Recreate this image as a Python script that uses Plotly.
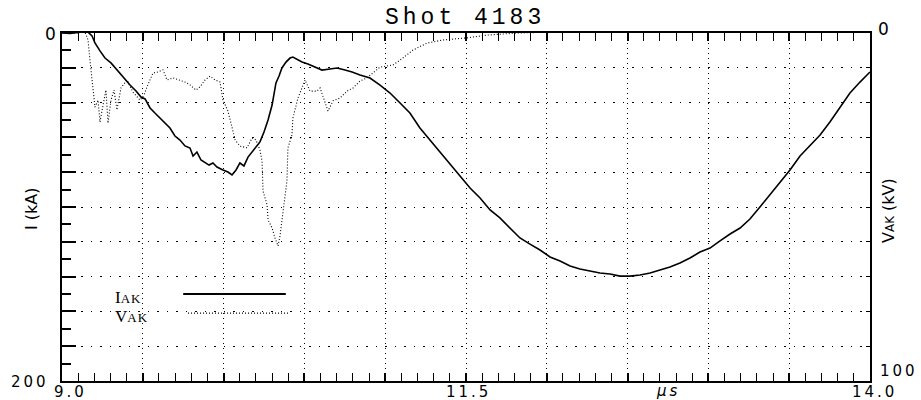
import plotly.graph_objects as go

# ---------------- data ----------------
# Current I_AK (kA) vs time (microseconds)
t_I = [9.000, 9.050, 9.111, 9.161, 9.186, 9.204, 9.235, 9.266, 9.303, 9.340,
       9.377, 9.421, 9.458, 9.489, 9.514, 9.545, 9.575, 9.606, 9.637, 9.668,
       9.699, 9.730, 9.761, 9.792, 9.811, 9.835, 9.860, 9.885, 9.910, 9.934,
       9.959, 9.996, 10.027, 10.052, 10.077, 10.101, 10.126, 10.151, 10.176, 10.200,
       10.225, 10.250, 10.275, 10.300, 10.324, 10.343, 10.361, 10.386, 10.411, 10.429,
       10.454, 10.485, 10.522, 10.566, 10.609, 10.658, 10.702, 10.751, 10.795, 10.844,
       10.906, 10.968, 11.030, 11.092, 11.153, 11.215, 11.277, 11.339, 11.401, 11.463,
       11.525, 11.587, 11.649, 11.710, 11.772, 11.834, 11.896, 11.958, 12.020, 12.082,
       12.144, 12.205, 12.267, 12.329, 12.391, 12.453, 12.515, 12.577, 12.639, 12.700,
       12.762, 12.824, 12.886, 12.948, 13.010, 13.072, 13.134, 13.196, 13.257, 13.319,
       13.381, 13.443, 13.505, 13.567, 13.629, 13.691, 13.752, 13.814, 13.876, 13.938,
       14.000]
I_kA = [0.0, 0.3, -0.4, -0.5, 1.7, 5.7, 10.3, 14.4, 17.2, 21.3,
        25.3, 29.9, 33.3, 36.8, 37.9, 43.1, 46.0, 48.9, 52.3, 54.6,
        59.2, 61.5, 64.9, 66.1, 70.7, 68.4, 73.0, 74.7, 75.9, 74.7,
        77.0, 78.7, 79.9, 81.6, 78.7, 74.7, 76.4, 71.3, 68.4, 66.1,
        62.6, 56.9, 50.0, 41.4, 28.7, 24.7, 20.1, 16.7, 14.4, 13.8,
        14.9, 16.7, 17.8, 19.5, 21.3, 20.7, 20.1, 21.3, 22.4, 24.1,
        25.9, 29.9, 34.5, 40.2, 46.0, 54.6, 61.5, 69.0, 75.9, 82.2,
        89.1, 94.8, 101.7, 106.3, 112.1, 117.8, 121.3, 124.7, 128.7, 131.0,
        133.9, 135.6, 136.8, 137.9, 138.5, 139.7, 139.7, 139.1, 137.9, 136.2,
        134.5, 132.2, 129.3, 125.9, 123.6, 119.5, 115.5, 112.1, 106.9, 100.0,
        93.1, 86.2, 78.7, 70.7, 64.4, 58.6, 51.1, 43.1, 34.5, 28.2,
        22.4]

# Voltage V_AK (kV) vs time (microseconds)
t_V = [9.000, 9.080, 9.142, 9.161, 9.173, 9.186, 9.204, 9.223, 9.235, 9.254,
       9.272, 9.285, 9.303, 9.322, 9.340, 9.365, 9.402, 9.439, 9.483, 9.508,
       9.526, 9.563, 9.594, 9.625, 9.650, 9.687, 9.730, 9.761, 9.792, 9.829,
       9.854, 9.885, 9.916, 9.947, 9.978, 9.996, 10.027, 10.052, 10.071, 10.101,
       10.145, 10.176, 10.200, 10.225, 10.238, 10.244, 10.269, 10.275, 10.300, 10.318,
       10.337, 10.349, 10.361, 10.380, 10.392, 10.398, 10.423, 10.429, 10.460, 10.485,
       10.504, 10.535, 10.578, 10.597, 10.627, 10.646, 10.677, 10.720, 10.764, 10.801,
       10.844, 10.887, 10.968, 11.048, 11.092, 11.172, 11.259, 11.358, 11.506, 11.630,
       11.816, 12.001, 12.329, 12.639, 12.948, 13.257, 13.567, 13.876, 14.000]
V_kV = [0.0, 0.0, -0.3, 2.0, 7.8, 13.5, 21.3, 19.3, 25.6, 20.7,
        16.4, 25.9, 19.3, 16.4, 22.1, 15.8, 13.5, 17.0, 19.3, 17.8,
        15.5, 11.5, 11.2, 10.6, 13.5, 12.9, 13.5, 14.1, 14.9, 16.4,
        15.5, 13.5, 12.4, 13.5, 14.1, 19.3, 22.4, 27.3, 30.7, 32.5,
        33.0, 30.2, 30.7, 33.6, 36.8, 45.4, 49.4, 53.7, 56.0, 58.9,
        61.2, 58.3, 54.0, 47.4, 42.5, 33.0, 29.3, 24.4, 18.7, 15.8,
        13.5, 16.7, 16.7, 15.8, 19.5, 22.4, 19.5, 18.7, 16.7, 15.8,
        13.8, 12.9, 9.8, 9.2, 7.8, 4.9, 2.9, 2.0, 1.4, 0.6,
        0.0, -0.3, -0.6, -0.9, -1.1, -1.4, -1.7, -1.7, -2.0]

TITLE = "Shot 4183"
X_RANGE = [9.0, 14.0]
I_RANGE = [200, 0]
V_RANGE = [100, 0]
X_TICK_VALUES = [9.0, 11.5, 12.75, 14.0]
X_TICK_LABELS = ["9.0", "11.5", "<i>\u03bcs</i>", "14.0"]
I_TICK_LABELS = ["0", "200"]
V_TICK_LABELS = ["0", "100"]

# ---------------- figure ----------------
fig = go.Figure()
fig.add_trace(go.Scatter(x=t_I, y=I_kA, mode="lines", name="I_AK",
                         line=dict(color="black", width=1.6), yaxis="y"))
fig.add_trace(go.Scatter(x=t_V, y=V_kV, mode="lines", name="V_AK",
                         line=dict(color="black", width=1.1, dash="1px,2px"),
                         yaxis="y2"))

tickfont = dict(family="DejaVu Sans", size=15, color="black")


def sp(txt):
    return "<span style='letter-spacing:3px'>" + txt + "</span>"


ann = []
# x tick labels (anchored by their top edge just under the axis)
x_shifts = [(8, -1), (2, -1), (0, 0), (4, -1)]
for v, lab, (dx, dy) in zip(X_TICK_VALUES, X_TICK_LABELS, x_shifts):
    ann.append(dict(x=v, y=0, xref="x", yref="paper", text=sp(lab), showarrow=False,
                    xanchor="center", yanchor="top", xshift=dx, yshift=dy,
                    font=tickfont, borderpad=0))
# left axis end labels
ann.append(dict(x=0, y=1, xref="paper", yref="paper", text=I_TICK_LABELS[0],
                showarrow=False, xanchor="center", yanchor="middle",
                xshift=-12, yshift=-1, font=dict(family="DejaVu Sans", size=17, color="black")))
ann.append(dict(x=0, y=0, xref="paper", yref="paper", text=sp(I_TICK_LABELS[1]),
                showarrow=False, xanchor="right", yanchor="middle",
                xshift=-12, yshift=-1, font=tickfont, borderpad=0))
# right axis end labels
ann.append(dict(x=1, y=1, xref="paper", yref="paper", text=V_TICK_LABELS[0],
                showarrow=False, xanchor="center", yanchor="middle",
                xshift=13, yshift=4, font=dict(family="DejaVu Sans", size=17, color="black")))
ann.append(dict(x=1, y=0, xref="paper", yref="paper", text=sp(V_TICK_LABELS[1]),
                showarrow=False, xanchor="center", yanchor="bottom",
                xshift=29, yshift=0, font=tickfont, borderpad=0))
# axis titles
ann.append(dict(x=0, y=0.5, xref="paper", yref="paper", text="I (kA)",
                showarrow=False, textangle=-90, xanchor="center", yanchor="middle",
                xshift=-31, yshift=-2,
                font=dict(family="DejaVu Sans", size=16, color="black")))
ann.append(dict(x=1, y=0.5, xref="paper", yref="paper",
                text="V<span style='font-size:12px'>AK</span> (kV)",
                showarrow=False, textangle=-90, xanchor="center", yanchor="middle",
                xshift=18, yshift=-4,
                font=dict(family="DejaVu Sans", size=16, color="black")))
# legend text
legfont = dict(family="Liberation Serif", size=17, color="black")
ann.append(dict(x=0.063, y=0.241, xref="paper", yref="paper",
                text="I<span style='font-size:13px;letter-spacing:1px'>AK</span>",
                showarrow=False, xanchor="left", yanchor="middle", font=legfont))
ann.append(dict(x=0.063, y=0.184, xref="paper", yref="paper",
                text="V<span style='font-size:13px;letter-spacing:1px'>AK</span>",
                showarrow=False, xanchor="left", yanchor="middle", font=legfont))

shapes = [
    dict(type="line", xref="paper", yref="paper", x0=0.150, x1=0.277, y0=0.25, y1=0.25,
         line=dict(color="black", width=2)),
    dict(type="line", xref="paper", yref="paper", x0=0.156, x1=0.280, y0=0.195, y1=0.195,
         line=dict(color="black", width=1.2, dash="1px,2px")),
]

fig.update_layout(
    width=921, height=400,
    margin=dict(l=62, r=51, t=33, b=19),
    paper_bgcolor="white", plot_bgcolor="white",
    showlegend=False,
    title=dict(text="<span style='letter-spacing:4px'>" + TITLE + "</span>",
               x=0.505, xanchor="center", y=0.96, yanchor="middle",
               font=dict(family="Liberation Mono", size=23, color="black")),
    xaxis=dict(range=X_RANGE, showline=True, linewidth=2, linecolor="black",
               mirror="allticks", ticks="inside", ticklen=8, tickwidth=1.5,
               tickcolor="black", tick0=9.0, dtick=0.5, showticklabels=False,
               showgrid=True, gridcolor="black", gridwidth=1, griddash="1px,4px",
               zeroline=False,
               minor=dict(dtick=0.1, ticks="inside", ticklen=5, tickwidth=1.2,
                          tickcolor="black", showgrid=False)),
    yaxis=dict(range=I_RANGE, showline=True, linewidth=2, linecolor="black",
               ticks="inside", ticklen=14, tickwidth=1.5, tickcolor="black",
               tick0=0, dtick=20, showticklabels=False,
               showgrid=True, gridcolor="black", gridwidth=1.3, griddash="1.5px,8px",
               zeroline=False,
               minor=dict(dtick=10, ticks="inside", ticklen=9, tickwidth=1.5,
                          tickcolor="black", showgrid=False)),
    yaxis2=dict(range=V_RANGE, overlaying="y", side="right", showline=True,
                linewidth=2, linecolor="black", ticks="inside", ticklen=4,
                tickwidth=1, tickcolor="black", tick0=0, dtick=10,
                showticklabels=False, showgrid=False, zeroline=False),
    annotations=ann,
    shapes=shapes,
)

fig.write_html("out.html")
